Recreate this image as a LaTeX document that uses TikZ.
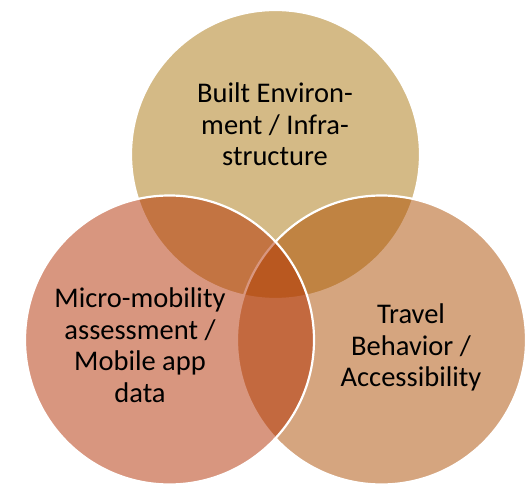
\documentclass[tikz,border=0pt]{standalone}
\usepackage{fontspec}
\setmainfont{Carlito}
\definecolor{ctop}{RGB}{171,119,15}
\definecolor{cleft}{RGB}{179,47,0}
\definecolor{cright}{RGB}{173,77,0}
\tikzset{
  venn/.style={draw=white, line width=2.2pt, fill opacity=0.5, draw opacity=1},
  lbl/.style={anchor=base, inner sep=0pt, text=black, font=\fontsize{28.5}{31.5}\selectfont}
}
\begin{document}
\begin{tikzpicture}[x=1pt,y=1pt]
\useasboundingbox (0,0) rectangle (529,484);
\fill[white] (0,0) rectangle (529,484);
\path[venn, fill=ctop]   (275.5,329.5) circle[radius=144.5];
\path[venn, fill=cright] (381.5,144) circle[radius=144.5];
\path[venn, fill=cleft]  (169.5,144) circle[radius=144.5];
\node[lbl] (top) at (275,381) {\renewcommand\arraystretch{1}\begin{tabular}[t]{@{}c@{}}Built Environ-\\ment / Infra-\\structure\end{tabular}};
\node[lbl] (left) at (140,176) {\renewcommand\arraystretch{1}\begin{tabular}[t]{@{}c@{}}Micro-mobility\\assessment /\\Mobile app\\data\end{tabular}};
\node[lbl] (right) at (411,160) {\renewcommand\arraystretch{1}\begin{tabular}[t]{@{}c@{}}Travel\\Behavior /\\Accessibility\end{tabular}};
\end{tikzpicture}
\end{document}
